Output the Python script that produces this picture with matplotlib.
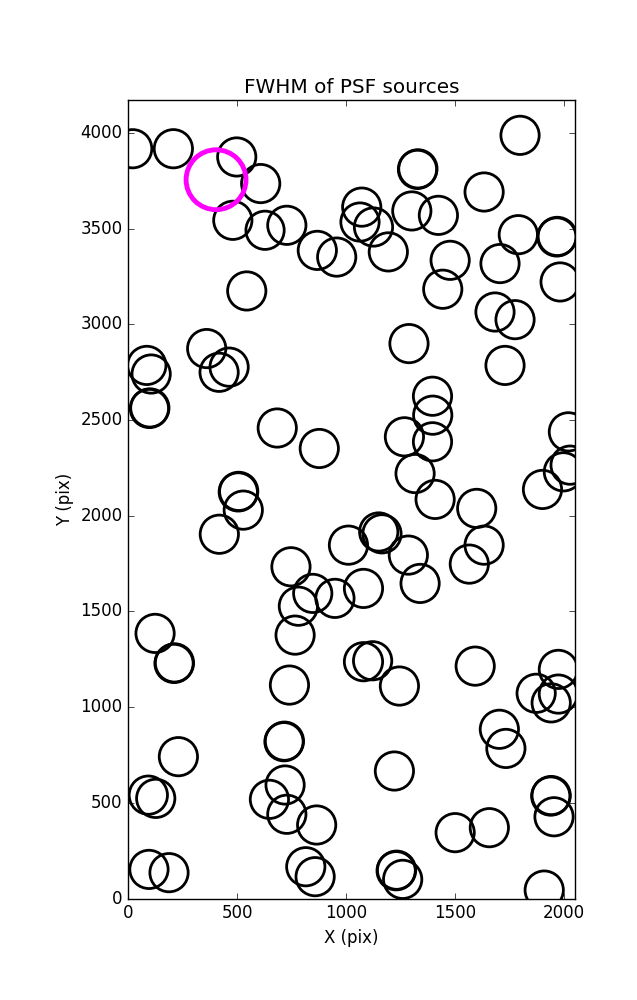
import numpy as np
import matplotlib
matplotlib.use('Agg')
import matplotlib.pyplot as plt

plt.style.use('classic')

# source positions (pixels)
x_src = [20, 207, 498, 608, 480, 628, 728, 868, 957, 1072, 1064, 1126,
         544, 360, 85, 105, 97, 417, 463, 684, 877, 505, 528, 418,
         747, 847, 781, 949, 766, 123, 1799, 1328, 1634, 1302, 1424, 1194,
         1791, 1968, 1478, 1707, 1983, 1444, 1684, 1776, 1289, 1730,
         1397, 1398, 1268, 1397, 1317, 1409, 1600, 2021, 2029, 1998, 1902,
         1011, 1150, 1165, 1286, 1340, 1634, 1566, 1080,
         210, 740, 715, 720, 648, 728, 865, 815, 858, 230, 92, 126, 95, 187,
         1080, 1122, 1245, 1593, 1975, 1873, 1975, 1942, 1704, 1734, 1222,
         1940, 1955, 1501, 1658, 1230, 1260, 1910,
         # near-duplicate detections (drawn as thicker rings)
         1330, 1970, 99, 507, 212, 717, 1232, 1942]
y_src = [3917, 3917, 3874, 3735, 3543, 3491, 3517, 3386, 3351, 3612, 3534, 3508,
         3174, 2873, 2785, 2740, 2560, 2749, 2776, 2458, 2351, 2124, 2029, 1903,
         1733, 1594, 1527, 1568, 1376, 1385, 3987, 3809, 3691, 3592, 3569, 3378,
         3468, 3456, 3334, 3317, 3221, 3183, 3064, 3024, 2899, 2785,
         2624, 2525, 2412, 2386, 2220, 2085, 2038, 2438, 2264, 2229, 2137,
         1846, 1915, 1905, 1794, 1646, 1846, 1747, 1620,
         1228, 1115, 819, 593, 518, 440, 384, 166, 114, 741, 540, 523, 152, 135,
         1237, 1242, 1110, 1214, 1197, 1072, 1068, 1022, 884, 784, 666,
         535, 427, 344, 370, 145, 100, 44,
         3812, 3459, 2563, 2127, 1231, 822, 148, 538]

# highlighted source
x_sel = [403]
y_sel = [3755]

fig = plt.figure(figsize=(6.37, 10), dpi=100, facecolor='white')
ax = fig.add_axes([0.2014, 0.1015, 0.7008, 0.7982])

ax.scatter(x_src, y_src, s=760, facecolors='none', edgecolors='k', linewidths=2)
ax.scatter(x_sel, y_sel, s=1860, facecolors='none', edgecolors='#ff00ff', linewidths=3.5)

ax.set_xlim(0, 2050)
ax.set_ylim(0, 4170)
ax.set_xticks([0, 500, 1000, 1500, 2000])
ax.set_yticks([0, 500, 1000, 1500, 2000, 2500, 3000, 3500, 4000])
ax.set_xlabel('X (pix)')
ax.set_ylabel('Y (pix)')
ax.set_title('FWHM of PSF sources')

fig.savefig('out.png', dpi=100, facecolor='white')
